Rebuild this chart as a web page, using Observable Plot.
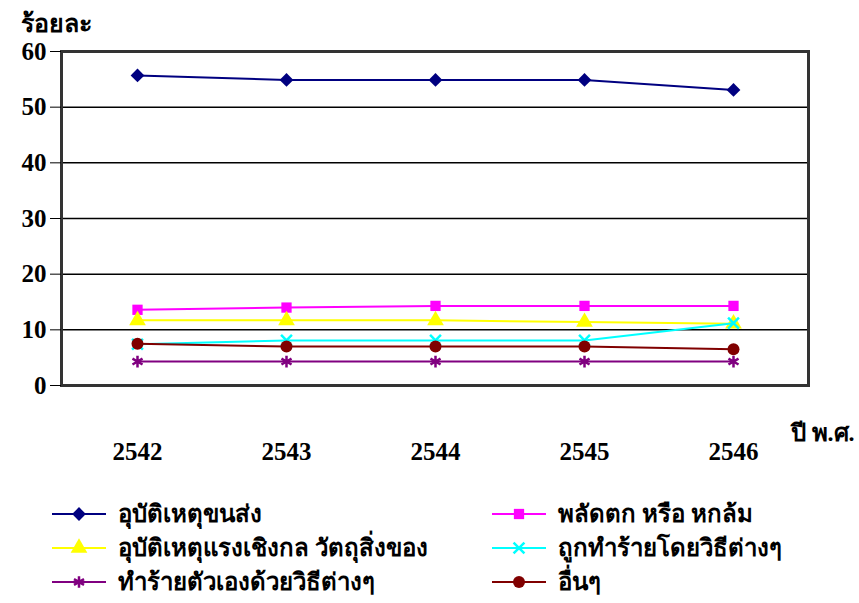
<!DOCTYPE html>
<html>
<head>
<meta charset="utf-8">
<script src="https://cdn.jsdelivr.net/npm/d3@7"></script>
<script src="https://cdn.jsdelivr.net/npm/@observablehq/plot@0.6"></script>
<style>
  body { margin: 0; background: #fff; }
  #chart { position: relative; width: 859px; height: 603px; overflow: hidden;
           font-family: "Liberation Serif", "DejaVu Serif", serif; font-weight: bold; color: #000; }
  #legend { position: absolute; left: 0; top: 496px; width: 859px; }
  .item { position: absolute; display: flex; align-items: center; font-size: 24px; line-height: 1; white-space: nowrap; }
  .item svg { display: block; margin-right: 12px; }
</style>
</head>
<body>
<div id="chart"></div>
<script>
// Buddhist-era years on the x axis
const years = ["2542", "2543", "2544", "2545", "2546"];
const yTicks = [0, 10, 20, 30, 40, 50, 60];

// Series names (cause of injury) and their percentages per year
const seriesNames = [
  "อุบัติเหตุขนส่ง",
  "พลัดตก  หรือ หกล้ม",
  "อุบัติเหตุแรงเชิงกล วัตถุสิ่งของ",
  "ถูกทำร้ายโดยวิธีต่างๆ",
  "ทำร้ายตัวเองด้วยวิธีต่างๆ",
  "อื่นๆ"
];
const transport   = [55.7, 54.9, 54.9, 54.9, 53.1];
const falls       = [13.6, 14.0, 14.3, 14.3, 14.3];
const mechanical  = [11.7, 11.7, 11.7, 11.4, 11.1];
const assault     = [7.4, 8.1, 8.1, 8.1, 11.2];
const selfHarm    = [4.3, 4.3, 4.3, 4.3, 4.3];
const other       = [7.5, 7.0, 7.0, 7.0, 6.5];
const seriesValues = [transport, falls, mechanical, assault, selfHarm, other];

// Styling for each series
const colors  = ["#000080", "#FF00FF", "#FFFF00", "#00FFFF", "#800080", "#800000"];
const symbols = ["diamond2", "square", "triangle", "times", "asterisk", "circle"];
const filled  = [true, true, true, false, false, true];
const radii   = [6.2, 5.8, 6.2, 5, 5.5, 6];

const rows = seriesNames.map((name, i) =>
  years.map((year, j) => ({ series: name, year, value: seriesValues[i][j] }))
);

const fontFamily = '"Liberation Serif", "DejaVu Serif", serif';

const marks = [
  Plot.gridY(yTicks.slice(1, -1), { stroke: "#000", strokeOpacity: 1, strokeWidth: 1.5 }),
  Plot.frame({ stroke: "#333", strokeWidth: 3 }),
  Plot.ruleX([0], { frameAnchor: "left", stroke: "#222", strokeWidth: 3 }),
  Plot.axisY({ ticks: yTicks, tickSize: 11, tickPadding: 4, tickFormat: d => d, stroke: "#000", fontSize: 25 }),
  Plot.axisX({ tickSize: 0, tickPadding: 57, fontSize: 25 }),
  Plot.text(["ร้อยละ"], { frameAnchor: "top-left", textAnchor: "start", dx: -41, dy: -20, lineAnchor: "bottom", fontSize: 25 }),
  Plot.text(["ปี พ.ศ."], { frameAnchor: "bottom-right", textAnchor: "middle", dx: 14, dy: 55, fontSize: 24 })
];

rows.forEach((data, i) => {
  marks.push(Plot.line(data, { x: "year", y: "value", stroke: colors[i], strokeWidth: 2 }));
  marks.push(Plot.dot(data, {
    x: "year", y: "value", symbol: () => symbols[i], r: radii[i],
    fill: filled[i] ? colors[i] : "none",
    stroke: filled[i] ? "none" : colors[i],
    strokeWidth: filled[i] ? 0 : 2.5
  }));
});

const plot = Plot.plot({
  width: 859,
  height: 480,
  marginTop: 51,
  marginBottom: 95,
  marginLeft: 61,
  marginRight: 51,
  x: { type: "point", domain: years, padding: 0.5, label: null, axis: null },
  y: { domain: [0, 60], label: null, axis: null },
  style: { fontFamily, fontWeight: "bold", color: "#000", background: "#fff", overflow: "visible" },
  marks
});

const chart = document.getElementById("chart");
chart.appendChild(plot);

// Legend: two columns of swatches with the series names
const legend = document.createElement("div");
legend.id = "legend";
chart.appendChild(legend);

const symbolTypes = {
  diamond2: d3.symbolDiamond2, square: d3.symbolSquare, triangle: d3.symbolTriangle,
  times: d3.symbolTimes, asterisk: d3.symbolAsterisk, circle: d3.symbolCircle
};
seriesNames.forEach((name, i) => {
  const col = i % 2, row = Math.floor(i / 2);
  const item = document.createElement("div");
  item.className = "item";
  item.style.left = (col ? 492 : 52) + "px";
  item.style.top = (row * 34) + "px";
  item.style.height = "36px";
  const svg = d3.create("svg").attr("width", 54).attr("height", 20);
  svg.append("line").attr("x1", 0).attr("x2", 54).attr("y1", 10).attr("y2", 10)
    .attr("stroke", colors[i]).attr("stroke-width", 2);
  svg.append("path")
    .attr("transform", "translate(27,10)")
    .attr("d", d3.symbol(symbolTypes[symbols[i]], Math.PI * radii[i] * radii[i])())
    .attr("fill", filled[i] ? colors[i] : "none")
    .attr("stroke", filled[i] ? "none" : colors[i])
    .attr("stroke-width", 2.5);
  item.appendChild(svg.node());
  const label = document.createElement("span");
  label.textContent = name;
  item.appendChild(label);
  legend.appendChild(item);
});
</script>
</body>
</html>
